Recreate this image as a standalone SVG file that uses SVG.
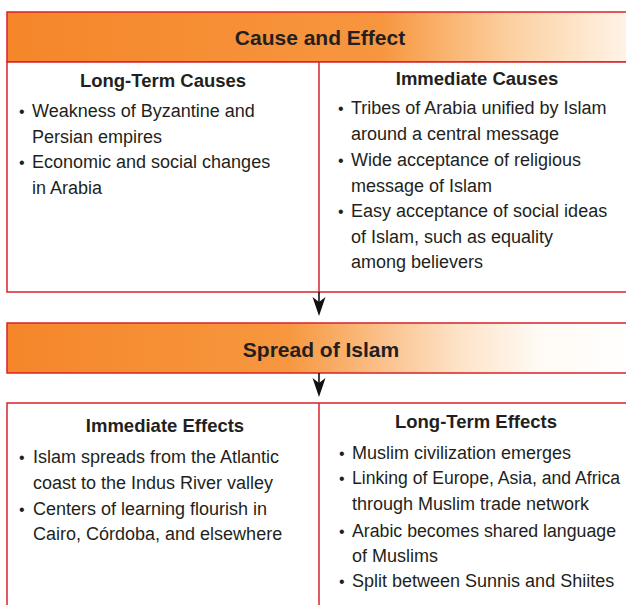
<svg xmlns="http://www.w3.org/2000/svg" width="626" height="605" viewBox="0 0 626 605">
<defs>
<linearGradient id="g1" x1="0" y1="0" x2="1" y2="0" gradientUnits="objectBoundingBox">
<stop offset="0" stop-color="#f5862a"/>
<stop offset="0.6" stop-color="#f7963f"/>
<stop offset="0.8" stop-color="#fccf9e"/>
<stop offset="1" stop-color="#fff5ea"/>
</linearGradient>
<linearGradient id="g2" x1="0" y1="0" x2="1" y2="0" gradientUnits="objectBoundingBox">
<stop offset="0" stop-color="#f5862a"/>
<stop offset="0.45" stop-color="#f7973f"/>
<stop offset="0.72" stop-color="#fde2c6"/>
<stop offset="0.85" stop-color="#fffaf4"/>
<stop offset="1" stop-color="#ffffff"/>
</linearGradient>
<style>
.box{fill:#fff;stroke:#d8232a;stroke-width:1.5}
.bar{stroke:#d8232a;stroke-width:1.5}
.div{stroke:#d8232a;stroke-width:1.5}
text{font-family:"Liberation Sans",Arial,sans-serif;fill:#231f20}
.title{font-size:21px;font-weight:bold;text-anchor:middle}
.head{font-size:18.5px;font-weight:bold;text-anchor:middle}
.body{font-size:18px}
.bul{font-size:16px}
.arrow{stroke:#111;stroke-width:1.6;fill:none}
.ahead{fill:#111}
</style>
</defs>
<rect width="626" height="605" fill="#fff"/>

<g id="cause-effect-header">
<rect class="bar" x="7" y="12" width="625" height="50" fill="url(#g1)"/>
<text class="title" x="320" y="45">Cause and Effect</text>
</g>

<g id="causes-box">
<rect class="box" x="7" y="62" width="625" height="230"/>
<line class="div" x1="319" y1="62" x2="319" y2="292"/>
</g>

<g id="long-term-causes">
<text class="head" x="163" y="87">Long-Term Causes</text>
<text class="body"><tspan class="bul" x="19" y="117">•</tspan><tspan x="32" y="117">Weakness of Byzantine and</tspan><tspan x="32" y="143">Persian empires</tspan><tspan class="bul" x="19" y="168">•</tspan><tspan x="32" y="168">Economic and social changes</tspan><tspan x="32" y="194">in Arabia</tspan></text>
</g>

<g id="immediate-causes">
<text class="head" x="477" y="85">Immediate Causes</text>
<text class="body"><tspan class="bul" x="338" y="114">•</tspan><tspan x="351" y="114">Tribes of Arabia unified by Islam</tspan><tspan x="351" y="140">around a central message</tspan><tspan class="bul" x="338" y="166">•</tspan><tspan x="351" y="166">Wide acceptance of religious</tspan><tspan x="351" y="192">message of Islam</tspan><tspan class="bul" x="338" y="217">•</tspan><tspan x="351" y="217">Easy acceptance of social ideas</tspan><tspan x="351" y="243">of Islam, such as equality</tspan><tspan x="351" y="268">among believers</tspan></text>
</g>

<g id="spread-header">
<rect class="bar" x="7" y="323" width="625" height="50" fill="url(#g2)"/>
<text class="title" x="321" y="357">Spread of Islam</text>
</g>

<g id="effects-box">
<rect class="box" x="7" y="403" width="625" height="210"/>
<line class="div" x1="319" y1="403" x2="319" y2="605"/>
</g>

<g id="immediate-effects">
<text class="head" x="165" y="432">Immediate Effects</text>
<text class="body"><tspan class="bul" x="19" y="463">•</tspan><tspan x="33" y="463">Islam spreads from the Atlantic</tspan><tspan x="33" y="489">coast to the Indus River valley</tspan><tspan class="bul" x="19" y="515">•</tspan><tspan x="33" y="515">Centers of learning flourish in</tspan><tspan x="33" y="540">Cairo, Córdoba, and elsewhere</tspan></text>
</g>

<g id="long-term-effects">
<text class="head" x="476" y="428">Long-Term Effects</text>
<text class="body"><tspan class="bul" x="339" y="459">•</tspan><tspan x="352" y="459">Muslim civilization emerges</tspan></text>
<text class="body"><tspan class="bul" x="339" y="484">•</tspan></text>
<text class="body" x="352" y="484" textLength="268" lengthAdjust="spacingAndGlyphs">Linking of Europe, Asia, and Africa</text>
<text class="body"><tspan x="352" y="510">through Muslim trade network</tspan><tspan class="bul" x="339" y="537">•</tspan></text>
<text class="body" x="352" y="537" textLength="264" lengthAdjust="spacingAndGlyphs">Arabic becomes shared language</text>
<text class="body"><tspan x="352" y="562">of Muslims</tspan><tspan class="bul" x="339" y="587">•</tspan><tspan x="352" y="587">Split between Sunnis and Shiites</tspan></text>
</g>

<g id="connectors">
<line class="arrow" x1="319" y1="292" x2="319" y2="306"/>
<path class="ahead" d="M312.5,297 L319,302 L325.5,297 L319,316 Z"/>
<line class="arrow" x1="319" y1="373" x2="319" y2="387"/>
<path class="ahead" d="M312.5,378 L319,383 L325.5,378 L319,397 Z"/>
</g>
</svg>
